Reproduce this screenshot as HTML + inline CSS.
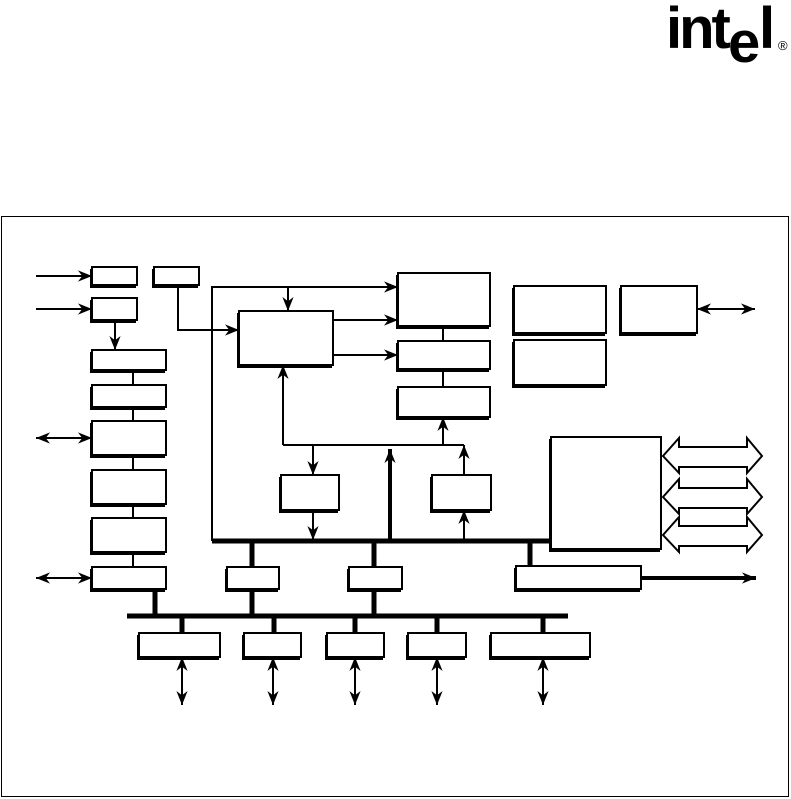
<!DOCTYPE html>
<html><head><meta charset="utf-8"><style>
html,body{margin:0;padding:0;background:#fff;}
svg{display:block;}
</style></head><body>
<svg width="791" height="799" viewBox="0 0 791 799" xmlns="http://www.w3.org/2000/svg">
<defs>
<marker id="ah" viewBox="0 0 10 10" refX="10" refY="5" markerWidth="7" markerHeight="7" orient="auto-start-reverse" markerUnits="userSpaceOnUse"><path d="M0,0 L10,5 L0,10 L3,5 z" fill="#000"/></marker>
<marker id="ah2" viewBox="0 0 10 10" refX="10" refY="5" markerWidth="14" markerHeight="14" orient="auto-start-reverse" markerUnits="userSpaceOnUse"><path d="M0,1 L10,5 L0,9 L3,5 z" fill="#000"/></marker>
</defs>
<!-- logo -->
<text x="666" y="48" font-family="Liberation Sans, sans-serif" font-weight="bold" font-size="58" letter-spacing="-3">int</text>
<text x="728" y="62" font-family="Liberation Sans, sans-serif" font-weight="bold" font-size="58">e</text>
<text x="759" y="48" font-family="Liberation Sans, sans-serif" font-weight="bold" font-size="58">l</text>
<text x="778" y="50" font-family="Liberation Sans, sans-serif" font-size="13">®</text>
<!-- frame -->
<rect x="1.5" y="216.5" width="787" height="580" fill="none" stroke="#000" stroke-width="1"/>
<g stroke="#000" fill="none">
<!-- thin lines -->
<g stroke-width="2">
<line x1="36" y1="276" x2="92" y2="276" marker-end="url(#ah2)"/>
<line x1="36" y1="309" x2="92" y2="309" marker-end="url(#ah2)"/>
<line x1="115" y1="320" x2="115" y2="350" marker-end="url(#ah2)"/>
<line x1="133" y1="370" x2="133" y2="385"/>
<line x1="133" y1="407" x2="133" y2="421"/>
<line x1="133" y1="455" x2="133" y2="470"/>
<line x1="133" y1="504" x2="133" y2="518"/>
<line x1="133" y1="552" x2="133" y2="567"/>
<line x1="36" y1="438" x2="92" y2="438" marker-start="url(#ah2)" marker-end="url(#ah2)"/>
<line x1="36" y1="578" x2="92" y2="578" marker-start="url(#ah2)" marker-end="url(#ah2)"/>
<polyline points="178,285 178,330 239,330" marker-end="url(#ah2)"/>
<polyline points="212,541 212,287 398,287" marker-end="url(#ah2)"/>
<line x1="288" y1="287" x2="288" y2="311" marker-end="url(#ah2)"/>
<line x1="333" y1="320" x2="398" y2="320" marker-end="url(#ah2)"/>
<line x1="333" y1="355" x2="398" y2="355" marker-end="url(#ah2)"/>
<line x1="443" y1="326" x2="443" y2="341"/>
<line x1="443" y1="369" x2="443" y2="387"/>
<line x1="283" y1="445" x2="283" y2="365" marker-end="url(#ah2)"/>
<line x1="283" y1="445" x2="464" y2="445"/>
<line x1="443" y1="445" x2="443" y2="417" marker-end="url(#ah2)"/>
<line x1="313" y1="445" x2="313" y2="475" marker-end="url(#ah2)"/>
<line x1="313" y1="510" x2="313" y2="540" marker-end="url(#ah2)"/>
<line x1="464" y1="475" x2="464" y2="445" marker-end="url(#ah2)"/>
<line x1="464" y1="540" x2="464" y2="510" marker-end="url(#ah2)"/>
<line x1="697" y1="309" x2="755" y2="309" marker-start="url(#ah2)" marker-end="url(#ah2)"/>
<line x1="182" y1="657" x2="182" y2="705" marker-start="url(#ah2)" marker-end="url(#ah2)"/>
<line x1="273" y1="657" x2="273" y2="705" marker-start="url(#ah2)" marker-end="url(#ah2)"/>
<line x1="355" y1="657" x2="355" y2="705" marker-start="url(#ah2)" marker-end="url(#ah2)"/>
<line x1="437" y1="657" x2="437" y2="705" marker-start="url(#ah2)" marker-end="url(#ah2)"/>
<line x1="543" y1="657" x2="543" y2="705" marker-start="url(#ah2)" marker-end="url(#ah2)"/>
</g>
<!-- thick lines -->
<g stroke-width="4">
<line x1="390" y1="541" x2="390" y2="449" marker-end="url(#ah2)"/>
<line x1="641" y1="578" x2="756" y2="578" marker-end="url(#ah2)"/>
</g>
<g stroke-width="5">
<line x1="212" y1="541" x2="553" y2="541"/>
<line x1="127" y1="616" x2="568" y2="616"/>
<line x1="252" y1="541" x2="252" y2="567"/>
<line x1="374" y1="541" x2="374" y2="567"/>
<line x1="530" y1="541" x2="530" y2="566"/>
<line x1="155" y1="589" x2="155" y2="616"/>
<line x1="252" y1="589" x2="252" y2="616"/>
<line x1="374" y1="589" x2="374" y2="616"/>
<line x1="182" y1="616" x2="182" y2="633"/>
<line x1="274" y1="616" x2="274" y2="633"/>
<line x1="355" y1="616" x2="355" y2="633"/>
<line x1="437" y1="616" x2="437" y2="633"/>
<line x1="543" y1="616" x2="543" y2="633"/>
</g>
<!-- hollow double arrows -->
<g stroke-width="2" fill="#fff">
<polygon points="663,456 679,438 679,447 747,447 747,438 762,456 747,473 747,467 679,467 679,473"/>
<polygon points="663,497 679,479 679,488 747,488 747,479 762,497 747,514 747,508 679,508 679,514"/>
<polygon points="663,535 679,517 679,526 747,526 747,517 762,535 747,552 747,546 679,546 679,552"/>
</g>
</g>
<!-- boxes -->
<g id="boxes">
<g fill="#000">
<rect x="90" y="269" width="46" height="19"/><rect x="152" y="269" width="46" height="19"/>
<rect x="90" y="300" width="46" height="23"/><rect x="90" y="352" width="75" height="21"/>
<rect x="90" y="387" width="75" height="23"/><rect x="90" y="423" width="75" height="35"/>
<rect x="90" y="472" width="75" height="35"/><rect x="90" y="520" width="75" height="35"/>
<rect x="90" y="569" width="75" height="23"/><rect x="237" y="313" width="95" height="55"/>
<rect x="396" y="275" width="93" height="54"/><rect x="396" y="343" width="93" height="29"/>
<rect x="396" y="389" width="93" height="31"/><rect x="512" y="288" width="93" height="48"/>
<rect x="619" y="288" width="77" height="48"/><rect x="512" y="342" width="93" height="46"/>
<rect x="279" y="477" width="59" height="36"/><rect x="430" y="477" width="60" height="36"/>
<rect x="549" y="439" width="111" height="113"/><rect x="225" y="569" width="53" height="23"/>
<rect x="347" y="569" width="54" height="23"/><rect x="514" y="568" width="126" height="24"/>
<rect x="137" y="635" width="82" height="25"/><rect x="242" y="635" width="58" height="25"/>
<rect x="325" y="635" width="58" height="25"/><rect x="406" y="635" width="59" height="25"/>
<rect x="489" y="635" width="100" height="25"/>
</g>
<g fill="#fff" stroke="#000" stroke-width="2">
<rect x="92" y="267" width="45" height="18"/><rect x="154" y="267" width="45" height="18"/>
<rect x="92" y="298" width="45" height="22"/><rect x="92" y="350" width="74" height="20"/>
<rect x="92" y="385" width="74" height="22"/><rect x="92" y="421" width="74" height="34"/>
<rect x="92" y="470" width="74" height="34"/><rect x="92" y="518" width="74" height="34"/>
<rect x="92" y="567" width="74" height="22"/><rect x="239" y="311" width="94" height="54"/>
<rect x="398" y="273" width="92" height="53"/><rect x="398" y="341" width="92" height="28"/>
<rect x="398" y="387" width="92" height="30"/><rect x="514" y="286" width="92" height="47"/>
<rect x="621" y="286" width="76" height="47"/><rect x="514" y="340" width="92" height="45"/>
<rect x="281" y="475" width="58" height="35"/><rect x="432" y="475" width="59" height="35"/>
<rect x="551" y="437" width="110" height="112"/><rect x="227" y="567" width="52" height="22"/>
<rect x="349" y="567" width="53" height="22"/><rect x="516" y="566" width="125" height="23"/>
<rect x="139" y="633" width="81" height="24"/><rect x="244" y="633" width="57" height="24"/>
<rect x="327" y="633" width="57" height="24"/><rect x="408" y="633" width="58" height="24"/>
<rect x="491" y="633" width="99" height="24"/>
</g>
</g>
</svg>
</body></html>
